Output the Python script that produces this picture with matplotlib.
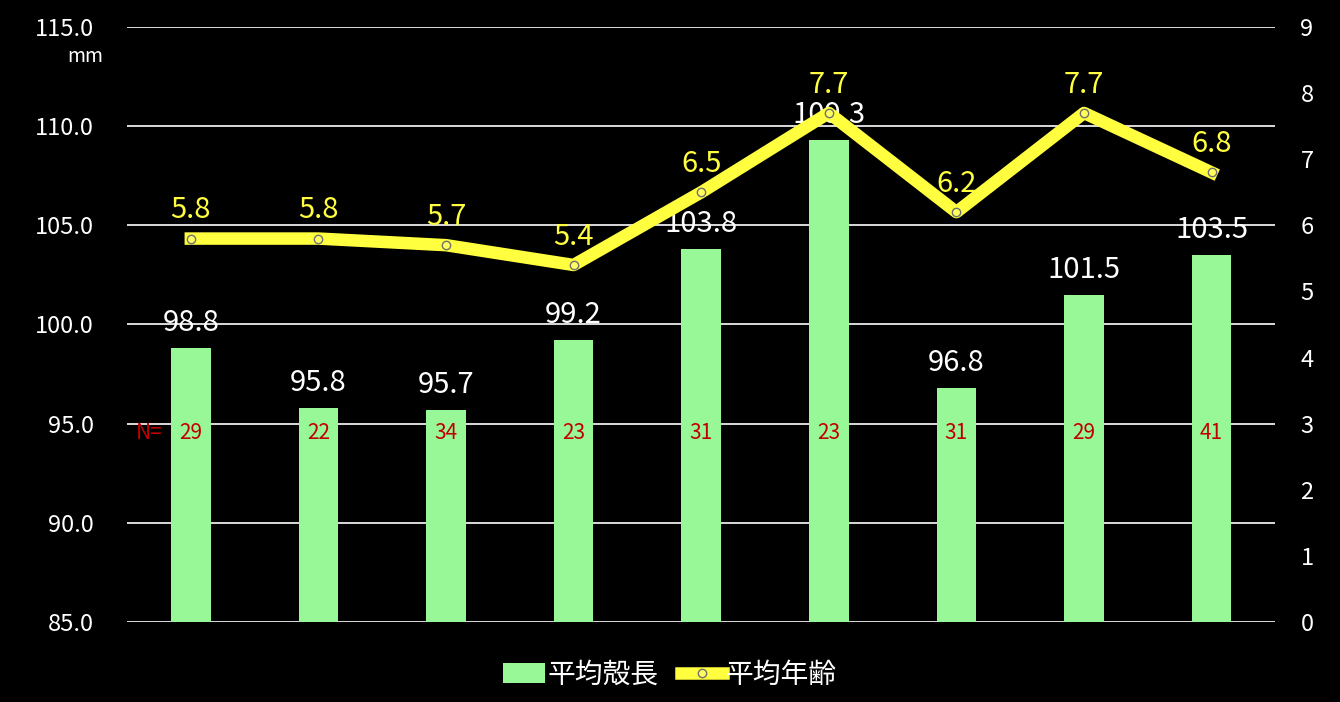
import matplotlib
matplotlib.use("Agg")
import matplotlib.pyplot as plt
import numpy as np

plt.rcParams['font.family'] = ['Noto Sans CJK JP', 'DejaVu Sans']

# データ
shell_len = [98.8, 95.8, 95.7, 99.2, 103.8, 109.3, 96.8, 101.5, 103.5]
age = [5.8, 5.8, 5.7, 5.4, 6.5, 7.7, 6.2, 7.7, 6.8]
n_count = [29, 22, 34, 23, 31, 23, 31, 29, 41]
left_ticks = [85, 90, 95, 100, 105, 110, 115]
right_ticks = list(range(0, 10))

x = np.arange(len(shell_len))

fig = plt.figure(figsize=(13.4, 7.02), dpi=100, facecolor='black')
ax = fig.add_axes([0.0948, 0.114, 0.857, 0.8475])
ax.set_facecolor('black')

ax.set_ylim(85, 115)
ax.set_xlim(-0.5, len(shell_len) - 0.5)
ax.set_yticks(left_ticks)
ax.set_yticklabels([f"{v:.1f}" for v in left_ticks])
ax.yaxis.grid(True, color='white', linewidth=1.2)
ax.set_axisbelow(True)
ax.set_xticks([])
for s in ax.spines.values():
    s.set_visible(False)
ax.tick_params(axis='y', length=0, colors='white', labelsize=17, pad=24)

bars = ax.bar(x, [v - 85 for v in shell_len], bottom=85, width=0.31,
              color='#98f898', label='平均殻長', zorder=2)
for xi, v in zip(x, shell_len):
    ax.text(xi, v + 0.5, f"{v:.1f}", color='white', fontsize=21,
            ha='center', va='bottom', zorder=5)
for xi, n in zip(x, n_count):
    ax.text(xi, 94.55, str(n), color='#c00000', fontsize=15,
            ha='center', va='center', zorder=5)
ax.text(-0.33, 94.55, "N=", color='#c00000', fontsize=15,
        ha='center', va='center', zorder=5)
ax.text(-0.83, 113.5, "mm", color='white', fontsize=14,
        ha='center', va='center', clip_on=False)

ax2 = ax.twinx()
ax2.set_ylim(0, 9)
ax2.set_yticks(right_ticks)
for s in ax2.spines.values():
    s.set_visible(False)
ax2.tick_params(axis='y', length=0, colors='white', labelsize=17, pad=18)
line, = ax2.plot(x, age, color='#ffff40', linewidth=9, marker='o',
                 markersize=6, markerfacecolor='#ffff60',
                 markeredgecolor='#707070', markeredgewidth=1,
                 label='平均年齢', zorder=3)
for xi, v in zip(x, age):
    ax2.text(xi, v + 0.2, f"{v:.1f}", color='#ffff40', fontsize=21,
             ha='center', va='bottom', zorder=5)

leg = fig.legend(handles=[bars, line], loc='lower center',
                 bbox_to_anchor=(0.5, -0.018), ncol=2, frameon=False,
                 fontsize=20, handlelength=1.5, handletextpad=0.1,
                 columnspacing=0.8, labelcolor='white')

fig.savefig("out.png", dpi=100, facecolor='black')
